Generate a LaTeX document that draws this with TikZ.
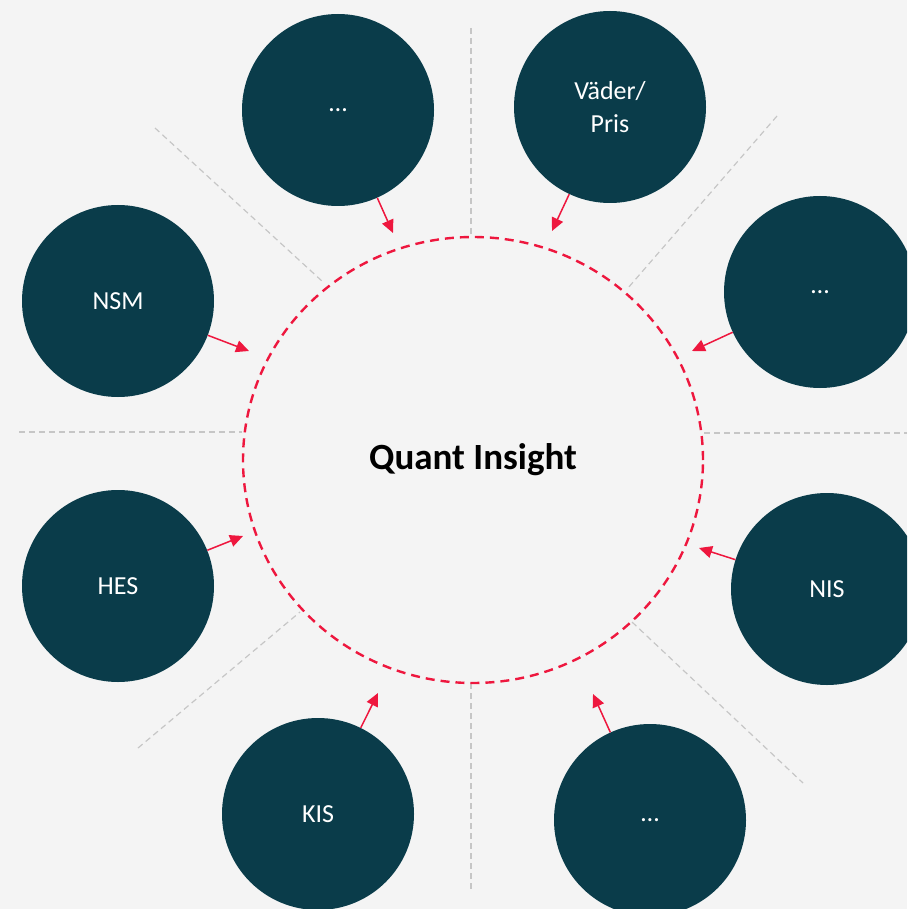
\documentclass[tikz,border=0pt]{standalone}
\usepackage{fontspec}
\setmainfont{Carlito}
\usepackage{tikz}
\usetikzlibrary{positioning,arrows.meta,shapes.geometric}
\usepackage{xcolor}
\definecolor{bgc}{HTML}{F4F4F4}
\definecolor{qteal}{HTML}{0A3C4A}
\definecolor{qred}{HTML}{EE173E}
\definecolor{sep}{HTML}{C6C6C6}

\begin{document}
\begin{tikzpicture}[x=1pt,y=-1pt,
  src/.style={circle,fill=qteal,minimum size=192pt,inner sep=0pt,text=white,
    align=center,font=\fontsize{26}{33}\selectfont},
  hub/.style={ellipse,draw=qred,line width=2.4pt,dash pattern=on 9pt off 6pt,
    minimum width=460pt,minimum height=446pt,inner sep=0pt,
    font=\bfseries\fontsize{37}{42}\selectfont},
  sepline/.style={sep,line width=1.2pt,dash pattern=on 6pt off 4pt},
  feed/.style={qred,line width=1.5pt,-{Triangle[length=13pt,width=12pt]}}]
\useasboundingbox (0,0) rectangle (907,909);
\fill[bgc] (0,0) rectangle (907,909);
\clip (0,0) rectangle (907,909);
% separators
\coordinate (s1a) at (471,28);  \coordinate (s1b) at (471,237);
\coordinate (s2a) at (471,683); \coordinate (s2b) at (471,892);
\coordinate (s3a) at (19,432);  \coordinate (s3b) at (242,432);
\coordinate (s4a) at (704,433); \coordinate (s4b) at (907,433);
\coordinate (s5a) at (155,128); \coordinate (s5b) at (323,282);
\coordinate (s6a) at (777,116); \coordinate (s6b) at (628,288);
\coordinate (s7a) at (138,748); \coordinate (s7b) at (300,612);
\coordinate (s8a) at (632,622); \coordinate (s8b) at (803,783);
\foreach \i in {1,...,8} \draw[sepline] (s\i a) -- (s\i b);
% hub
\node[hub] (qi) at (473,460) {Quant Insight};
% sources
\node[src] (top) at (338,110) {…};
\node[src] (vp) at (610,107) {Väder/\\Pris};
\node[src] (rt) at (820,292) {…};
\node[src] (nsm) at (118,301) {NSM};
\node[src] (hes) at (118,586) {HES};
\node[src] (nis) at (827,589) {NIS};
\node[src] (kis) at (318,814) {KIS};
\node[src] (bot) at (650,820) {…};
% arrow tips
\coordinate (topin) at (393,233);
\coordinate (vpin) at (552,231);
\coordinate (rtin) at (692,351);
\coordinate (nsmin) at (249,351);
\coordinate (hesin) at (243,536);
\coordinate (nisin) at (699,548);
\coordinate (kisin) at (378,693);
\coordinate (botin) at (593,694);
\foreach \n in {top,vp,rt,nsm,hes,nis,kis,bot}
  \draw[feed] (\n) -- (\n in);
\end{tikzpicture}
\end{document}
